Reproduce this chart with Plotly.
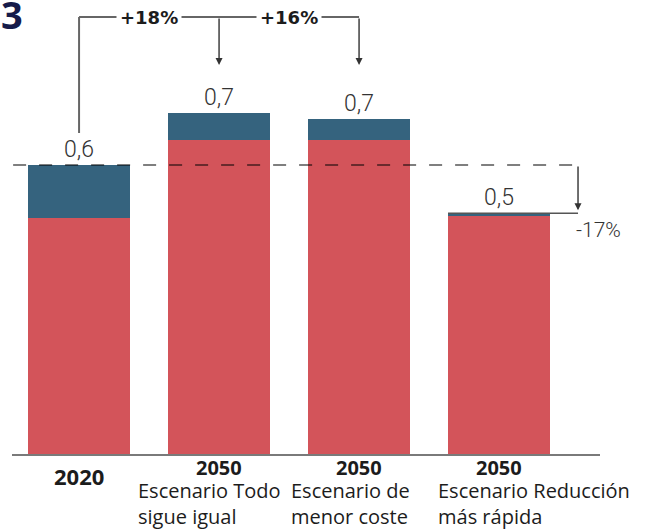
import plotly.graph_objects as go

# ---- data ----
categories = ["2020", "2050 Todo sigue igual", "2050 Menor coste", "2050 Reducción más rápida"]
red_part = [0.490, 0.652, 0.652, 0.496]
blue_part = [0.110, 0.056, 0.044, 0.004]
value_labels = ["0,6", "0,7", "0,7", "0,5"]
year_labels = ["2020", "2050", "2050", "2050"]
scenario_labels = ["", "Escenario Todo<br>sigue igual", "Escenario de<br>menor coste", "Escenario Reducción<br>más rápida"]
change_labels = ["+18%", "+16%", "-17%"]
figure_number = "3"

RED = "#D3545A"
BLUE = "#35637E"
TXT = "#1c1c1c"

xs = list(range(len(categories)))
totals = [r + b for r, b in zip(red_part, blue_part)]
BW = 0.729

fig = go.Figure()
fig.add_trace(go.Bar(x=xs, y=red_part, marker=dict(color=RED, line=dict(width=0)), width=BW, hoverinfo="skip"))
fig.add_trace(go.Bar(x=xs, y=blue_part, marker=dict(color=BLUE, line=dict(width=0)), width=BW, hoverinfo="skip"))

W, H = 649, 529
ML, MR, MT, MB = 12, 49, 10, 75
plot_h = H - MT - MB
YMAX = 0.9218
XR = [-0.479, 3.721]

def pv(px):  # page px -> data y
    return YMAX * (1 - (px - MT) / plot_h)

def ppaper(px):
    return (H - MB - px) / plot_h

shapes = []
ann = []

# dashed reference line at 2020 total
x_right = 3.564
shapes.append(dict(type="line", xref="x", yref="y", x0=-0.471, x1=x_right, y0=totals[0], y1=totals[0],
                   line=dict(color="rgba(0,0,0,0.5)", width=2, dash="13px,13px"), layer="above"))
# solid line at last bar top
shapes.append(dict(type="line", xref="x", yref="y", x0=3 - BW / 2, x1=x_right, y0=totals[3], y1=totals[3],
                   line=dict(color="#555555", width=1.5), layer="above"))
ann.append(dict(x=x_right, y=totals[3] + 0.006, ax=x_right, ay=totals[0], xref="x", yref="y", axref="x", ayref="y",
                text="", showarrow=True, arrowhead=2, arrowsize=1, arrowwidth=1.4, arrowcolor="#333333", standoff=0))
ann.append(dict(x=3.707, y=pv(230), xref="x", yref="y", text=change_labels[2], showarrow=False,
                font=dict(family="Roboto", size=21, color="#333333", weight=300)))

# top bracket
ytop = pv(17)
shapes.append(dict(type="line", xref="x", yref="y", x0=0, x1=0, y0=pv(133), y1=ytop,
                   line=dict(color="#666666", width=2)))
shapes.append(dict(type="line", xref="x", yref="y", x0=0, x1=2, y0=ytop, y1=ytop,
                   line=dict(color="#666666", width=2)))
for xa in (1, 2):
    ann.append(dict(x=xa, y=pv(65), ax=xa, ay=ytop, xref="x", yref="y", axref="x", ayref="y",
                    text="", showarrow=True, arrowhead=2, arrowsize=1, arrowwidth=1.4, arrowcolor="#333333", standoff=0))
for xa, t in ((0.5, change_labels[0]), (1.5, change_labels[1])):
    ann.append(dict(x=xa, y=ytop, xref="x", yref="y", text="<b>" + t + "</b>", showarrow=False,
                    bgcolor="white", borderpad=3,
                    font=dict(family="DejaVu Sans", size=18, color=TXT)))

# value labels
for i, t in enumerate(value_labels):
    ann.append(dict(x=i, y=totals[i], xref="x", yref="y", text=t, showarrow=False, yanchor="bottom",
                    font=dict(family="Roboto", size=23, color="#333333", weight=300)))

# category labels
for i, t in enumerate(year_labels):
    if i == 0:
        ann.append(dict(x=i, y=ppaper(476), xref="x", yref="paper", text="<b>" + t + "</b>", showarrow=False,
                        yanchor="middle", font=dict(family="Open Sans", size=22, color=TXT)))
    else:
        ann.append(dict(x=i, y=ppaper(467), xref="x", yref="paper", text="<b>" + t + "</b>", showarrow=False,
                        yanchor="middle", font=dict(family="Open Sans", size=20, color=TXT)))
left_px = [None, 138, 291, 438]
centers_px = [79, 219, 359, 499]
for i, t in enumerate(scenario_labels):
    if not t:
        continue
    ann.append(dict(x=i, xshift=left_px[i] - centers_px[i] - 2, y=ppaper(475.5), xref="x", yref="paper", text=t,
                    showarrow=False, xanchor="left", yanchor="top", align="left",
                    font=dict(family="Open Sans", size=20, color=TXT, weight=500)))

# figure number
ann.append(dict(x=(-1 - ML) / (W - ML - MR), y=ppaper(-14), xref="paper", yref="paper", text="<b>" + figure_number + "</b>",
                showarrow=False, xanchor="left", yanchor="top",
                font=dict(family="Open Sans", size=38, color="#161b4a")))

fig.update_layout(
    width=W, height=H,
    margin=dict(l=ML, r=MR, t=MT, b=MB),
    barmode="stack",
    showlegend=False,
    plot_bgcolor="white", paper_bgcolor="white",
    xaxis=dict(range=XR, showgrid=False, zeroline=False, showticklabels=False, ticks="",
               showline=True, linecolor="#7a7a7a", linewidth=2, fixedrange=True),
    yaxis=dict(range=[0, YMAX], visible=False, showgrid=False, zeroline=False, fixedrange=True),
    shapes=shapes,
    annotations=ann,
)

fig.write_html("out.html")
